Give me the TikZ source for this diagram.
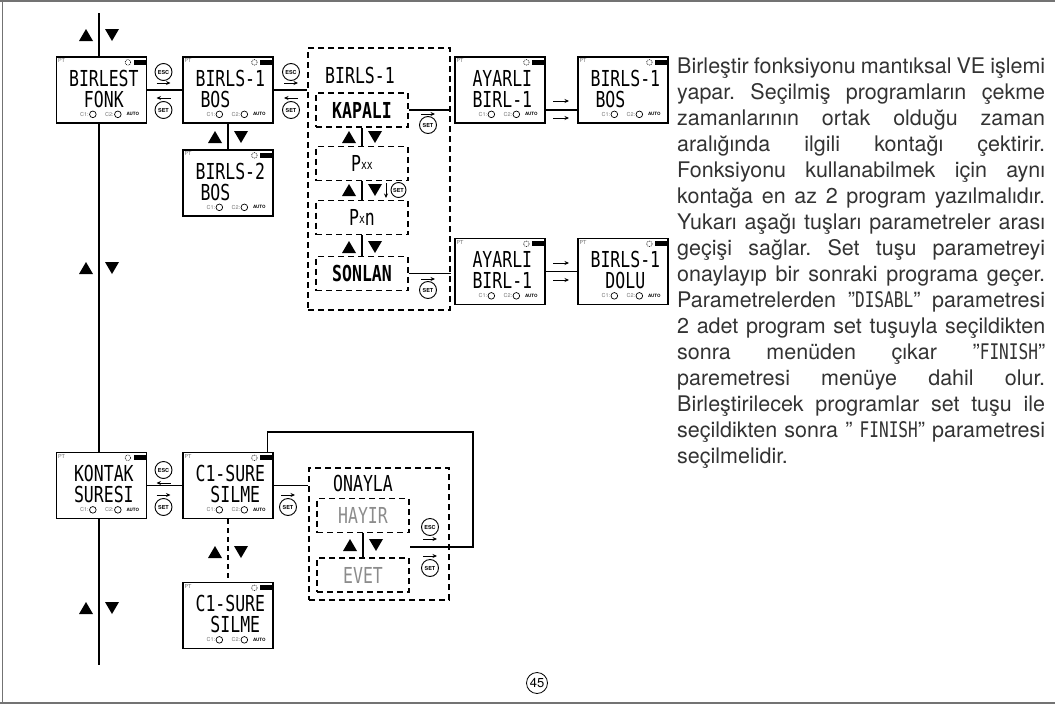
\documentclass[tikz,border=0pt]{standalone}
\usepackage{fontspec}
\setmainfont{TeX Gyre Heros}
\newfontfamily\lcdfont[FakeStretch=0.75]{DejaVu Sans Mono}
\usetikzlibrary{arrows.meta}

\tikzset{
  lcd/.style={draw, line width=1.3pt, minimum width=90pt, minimum height=66pt, inner sep=0pt},
  lcdtext/.style={inner sep=0pt, font=\lcdfont\fontsize{22}{22}\selectfont},
  lcdline/.style={lcdtext, text height=16pt, text depth=0pt},
  lcdbold/.style={font=\lcdfont\bfseries\fontsize{22}{22}\selectfont},
  tag/.style={inner sep=0pt, text=black!55, font=\fontsize{5.5}{5.5}\selectfont},
  opt/.style={lcdline, draw, line width=1.8pt, dash pattern=on 6pt off 4pt, minimum width=92pt, minimum height=34pt},
  menubox/.style={draw, line width=1.8pt, dash pattern=on 6pt off 4pt, inner sep=0pt},
  key/.style={circle, draw, line width=0.9pt, minimum size=17pt, inner sep=0pt, font=\bfseries\fontsize{5.5}{5.5}\selectfont},
  flow/.style={line width=1.3pt},
  tip/.style={line width=1pt, -{Stealth[length=4.5pt, width=4pt]}},
  updown/.pic={
    \fill (-20,6) -- (-6,6) -- (-13,-6) -- cycle;
    \fill (6,-6) -- (20,-6) -- (13,6) -- cycle;
  },
}

% one LCD screen: name, x, y, first line, second line
\newcommand\lcdscreen[5]{%
  \node[lcd] (#1) at (#2,#3) {};
  \begin{scope}[shift={(#1.north west)}]
    \node[tag, anchor=north west] (#1-pt) at (2,2) {PT};
    \draw[line width=0.6pt, dash pattern=on 0.9pt off 0.9pt] (72,6) circle (2.8);
    \fill (78,3.5) rectangle (90,8.5);
    \node[lcdtext, anchor=base] (#1-top) at (48,30) {#4};
    \node[lcdtext, anchor=base] (#1-bot) at (48,51) {#5};
    \node[tag, anchor=east] (#1-c1) at (33,58) {C1:};
    \draw[line width=0.7pt] (37,58) circle (3.3);
    \node[tag, anchor=east] (#1-c2) at (58,58) {C2:};
    \draw[line width=0.7pt] (62,58) circle (3.3);
    \node[tag, text=black, font=\bfseries\fontsize{4.5}{4.5}\selectfont] (#1-auto) at (77,58) {AUTO};
  \end{scope}%
}

\begin{document}
\begin{tikzpicture}[x=1pt, y=-1pt]
  \useasboundingbox (0,0) rectangle (1055,704);
  \draw[black!55, line width=2pt] (0,1) -- (1055,1);
  \draw[black!55, line width=2pt] (0,702.5) -- (1055,702.5);
  \draw[black!55, line width=1.5pt] (2.5,0) -- (2.5,704);

  % screens
  \lcdscreen{birlest}{101.5}{90}{BIRLEST}{~FONK~~}
  \lcdscreen{birls1}{228}{90}{BIRLS-1}{BOS~~~~}
  \lcdscreen{birls2}{228}{183}{BIRLS-2}{BOS~~~~}
  \lcdscreen{ayar1}{500}{90}{AYARLI}{BIRL-1}
  \lcdscreen{bos}{623}{90}{BIRLS-1}{BOS~~~~}
  \lcdscreen{ayar2}{500}{271.5}{AYARLI}{BIRL-1}
  \lcdscreen{dolu}{623}{271.5}{BIRLS-1}{~DOLU~~}
  \lcdscreen{kontak}{101.5}{485.5}{KONTAK}{SURESI}
  \lcdscreen{silme}{228}{485.5}{C1-SURE}{~SILME~}
  \lcdscreen{silme2}{228}{615.5}{C1-SURE}{~SILME~}

  % program menu
  \node[menubox, minimum width=142pt, minimum height=262pt] (menu) at (379,179) {};
  \node[lcdline] (menu-title) at (360,75.5) {BIRLS-1};
  \node[opt, lcdbold] (kapali) at (362,110) {KAPALI};
  \node[opt] (pxx) at (362,163.5) {P\raisebox{2pt}{\fontsize{13}{13}\selectfont xx}};
  \node[opt] (pxn) at (362,217.5) {P\raisebox{2pt}{\fontsize{13}{13}\selectfont x}n};
  \node[opt, lcdbold] (sonlan) at (362,273.5) {SONLAN};

  % confirm menu
  \node[menubox, minimum width=140pt, minimum height=132pt] (onay) at (379,534) {};
  \node[lcdline] (onay-title) at (363,483) {ONAYLA};
  \node[opt, text=black!45] (hayir) at (363,515.5) {HAYIR};
  \node[opt, text=black!45] (evet) at (363,575) {EVET};

  % connectors
  \coordinate (top) at (99,13);
  \coordinate (bottom) at (99,665);
  \coordinate (back) at (410,547);
  \draw[flow] (top) -- (top |- birlest.north);
  \draw[flow] (top |- birlest.south) -- (top |- kontak.north);
  \draw[flow] (top |- kontak.south) -- (bottom);
  \draw[flow] (birlest) -- (birls1);
  \draw[flow] (birls1) -- (birls1 -| menu.west);
  \draw[flow] (birls1) -- (birls2);
  \draw[flow] (kapali) -- (pxx);
  \draw[flow] (pxx) -- (pxn);
  \draw[flow] (pxn) -- (sonlan);
  \draw[flow] (kapali) -- (kapali -| menu.east);
  \draw[flow] (kapali -| ayar1.east) -- (kapali -| bos.west);
  \draw[flow] (sonlan) -- (sonlan -| menu.east);
  \draw[flow] (ayar2) -- (dolu);
  \draw[flow] (kontak) -- (silme);
  \draw[flow] (silme) -- (silme -| onay.west);
  \draw[flow, dash pattern=on 5pt off 4pt] (silme) -- (silme2);
  \draw[flow] (hayir) -- (evet);
  \draw[flow] (back) -- ++(63,0) -- ++(0,-115) -| ([xshift=-6pt]silme.north east);

  % up / down keys
  \foreach \x/\y in {99/35, 99/268, 99/608, 228/137, 362/137, 362/190, 362/247, 228/552, 363/545}
    \pic at (\x,\y) {updown};

  % esc / set keys
  \foreach \k/\x in {a/163.5, b/291}{
    \node[key] (esc-\k) at (\x,72) {ESC};
    \node[key] (set-\k) at (\x,110) {SET};
    \draw[tip] ([shift={(-7,11)}]esc-\k.center) -- ++(14,0);
    \draw[tip] ([shift={(7,-12)}]set-\k.center) -- ++(-14,0);
  }
  \node[key] (set-c) at (428,125) {SET};
  \draw[tip] ([shift={(-7,-11)}]set-c.center) -- ++(14,0);
  \node[key] (set-d) at (428,290) {SET};
  \draw[tip] ([shift={(-7,-11)}]set-d.center) -- ++(14,0);
  \node[key, minimum size=15pt] (set-e) at (398.5,190) {SET};
  \draw[tip] (386,183) -- (386,198);
  \node[key] (esc-f) at (163.5,470) {ESC};
  \node[key] (set-f) at (163.5,507) {SET};
  \draw[tip] ([shift={(7,13)}]esc-f.center) -- ++(-14,0);
  \draw[tip] ([shift={(-7,-12)}]set-f.center) -- ++(14,0);
  \node[key] (set-g) at (288,507) {SET};
  \draw[tip] ([shift={(-7,-12)}]set-g.center) -- ++(14,0);
  \node[key] (esc-h) at (430,527) {ESC};
  \draw[tip] ([shift={(-7,12)}]esc-h.center) -- ++(14,0);
  \node[key] (set-h) at (430,568) {SET};
  \draw[tip] ([shift={(-7,-12)}]set-h.center) -- ++(14,0);
  \foreach \y in {101, 118, 263, 280}
    \draw[tip] (553,\y) -- (569,\y);

  % description
  \node[anchor=base west, inner sep=0pt, text=black!80] (txt) at (677,73) {\parbox[t]{368pt}{%
    \fontsize{21.5}{26}\selectfont\frenchspacing\tolerance=10000\hyphenpenalty=10000
    Birleştir fonksiyonu mantıksal VE işlemi\linebreak
    yapar. Seçilmiş programların çekme\linebreak
    zamanlarının ortak olduğu zaman\linebreak
    aralığında ilgili kontağı çektirir.\linebreak
    Fonksiyonu kullanabilmek için aynı\linebreak
    kontağa en az 2 program yazılmalıdır.\linebreak
    Yukarı aşağı tuşları parametreler arası\linebreak
    geçişi sağlar. Set tuşu parametreyi\linebreak
    onaylayıp bir sonraki programa geçer.\linebreak
    Parametrelerden "{\lcdfont DISABL}" parametresi\linebreak
    2 adet program set tuşuyla seçildikten\linebreak
    sonra menüden çıkar "{\lcdfont FINISH}"\linebreak
    paremetresi menüye dahil olur.\linebreak
    Birleştirilecek programlar set tuşu ile\linebreak
    seçildikten sonra "~{\lcdfont FINISH}" parametresi\linebreak
    seçilmelidir.}};

  \node[circle, draw, line width=0.8pt, inner sep=0pt, minimum size=21pt, font=\fontsize{13}{13}\selectfont] (page) at (537,683) {45};
\end{tikzpicture}
\end{document}
